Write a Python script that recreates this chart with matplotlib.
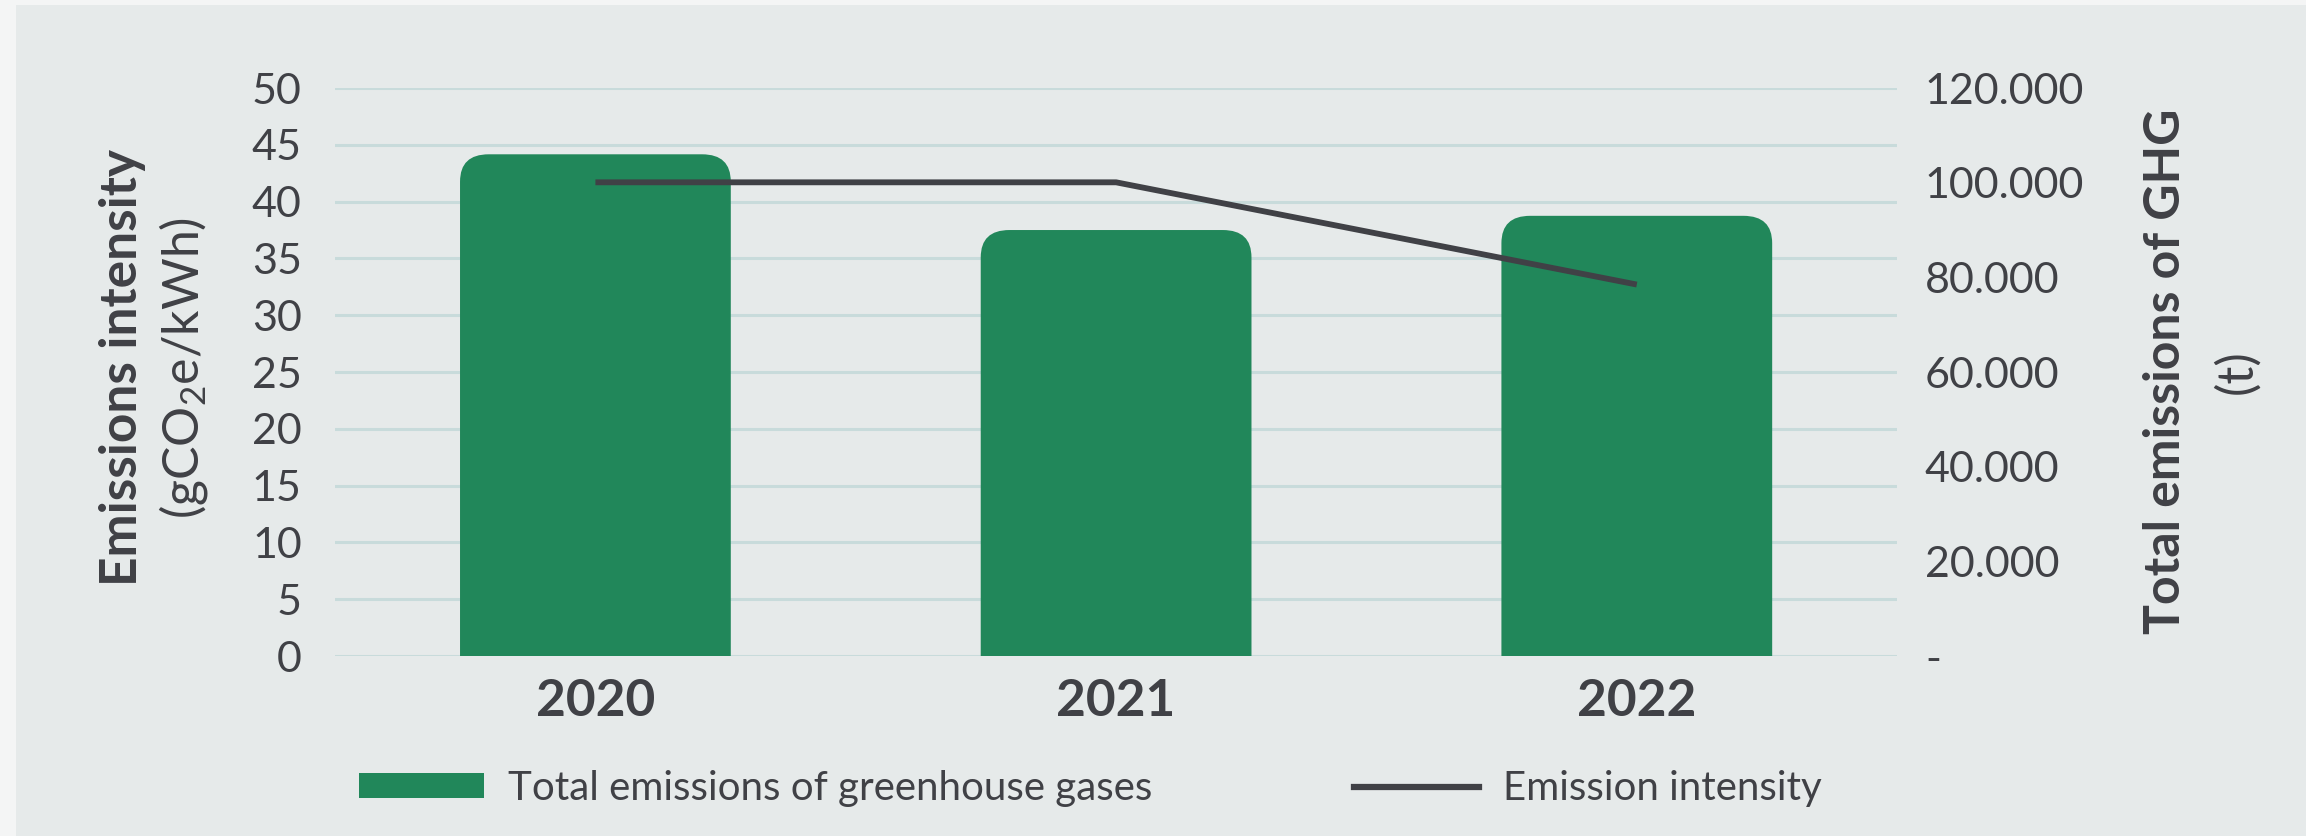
import matplotlib.pyplot as plt
from matplotlib.patches import FancyBboxPatch, Rectangle
from matplotlib.lines import Line2D
from matplotlib.patches import Patch

plt.rcParams['font.family'] = ['Lato', 'DejaVu Sans']
plt.rcParams['mathtext.fontset'] = 'custom'
plt.rcParams['mathtext.rm'] = 'Lato'
plt.rcParams['mathtext.it'] = 'Lato'

# data
years = ['2020', '2021', '2022']
ghg_total = [106000, 90000, 93000]          # t, right axis
intensity = [41.7, 41.7, 32.7]              # gCO2e/kWh, left axis

left_ticks = [0, 5, 10, 15, 20, 25, 30, 35, 40, 45, 50]
right_ticks = [0, 20000, 40000, 60000, 80000, 100000, 120000]
right_tick_labels = ['-', '20.000', '40.000', '60.000', '80.000', '100.000', '120.000']

# colours
outer_bg = '#f4f5f5'
panel_bg = '#e6eaea'
green = '#21875a'
dark = '#404146'
grid_col = '#c8dbdb'

fig = plt.figure(figsize=(23.06, 8.36), dpi=100, facecolor=outer_bg)
fig.add_artist(Rectangle((16 / 2306, 0), 1, 1 - 5 / 836, transform=fig.transFigure,
                         facecolor=panel_bg, edgecolor='none', zorder=0))

ax = fig.add_axes([0.1453, 0.2153, 0.6774, 0.6794])
ax.set_facecolor('none')
ax.set_ylim(0, 50)
ax.set_xlim(-0.5, 2.5)
ax.set_yticks(left_ticks)
ax.yaxis.grid(True, color=grid_col, linewidth=2.2)
ax.set_axisbelow(True)
ax.tick_params(axis='y', length=0, pad=24, labelsize=31, labelcolor=dark)
ax.set_xticks(range(len(years)))
ax.set_xticklabels(years, fontsize=37, fontweight='bold', color=dark)
ax.tick_params(axis='x', length=0, pad=16)
for s in ax.spines.values():
    s.set_visible(False)

# bars on the right axis, with rounded tops
ax2 = ax.twinx()
ax2.set_ylim(0, 120000)
ax2.set_yticks(right_ticks)
ax2.set_yticklabels(right_tick_labels)
ax2.tick_params(axis='y', length=0, pad=20, labelsize=31, labelcolor=dark)
for s in ax2.spines.values():
    s.set_visible(False)

bar_w = 0.52
bars = ax2.bar(range(len(years)), ghg_total, width=bar_w, color=green)
for b in bars:
    b.set_visible(False)
    r = 0.055
    patch = FancyBboxPatch((b.get_x(), -10000), b.get_width(), b.get_height() + 10000,
                           boxstyle=f'round,pad=0,rounding_size={r}',
                           mutation_aspect=105000, facecolor=green, edgecolor='none')
    ax2.add_patch(patch)

# intensity line on its own overlay axis (left scale)
ax3 = ax.twinx()
ax3.set_ylim(0, 50)
ax3.axis('off')
ax3.plot(range(len(years)), intensity, color=dark, linewidth=4.2, solid_capstyle='butt')

# axis titles
fig.text(122 / 2306, 0.56, 'Emissions intensity', rotation=90, ha='center', va='center',
         fontsize=37, fontweight='bold', color=dark)
fig.text(183 / 2306, 0.56, '(gCO$_2$e/kWh)', rotation=90, ha='center', va='center',
         fontsize=36, color=dark)
fig.text(2166 / 2306, 0.556, 'Total emissions of GHG', rotation=90, ha='center', va='center',
         fontsize=36, fontweight='bold', color=dark)
fig.text(2237 / 2306, 0.556, '(t)', rotation=90, ha='center', va='center',
         fontsize=36, color=dark)

# legend
handles = [Patch(facecolor=green, edgecolor='none'),
           Line2D([0], [0], color=dark, linewidth=4.5)]
labels = ['Total emissions of greenhouse gases', 'Emission intensity']
leg = fig.legend(handles, labels, loc='center', bbox_to_anchor=(0.473, 0.057), ncol=2,
                 frameon=False, fontsize=29, handlelength=3.1, handleheight=0.55,
                 handletextpad=0.6, columnspacing=5.0, labelcolor=dark)

fig.savefig('out.png', dpi=100, facecolor=fig.get_facecolor())
